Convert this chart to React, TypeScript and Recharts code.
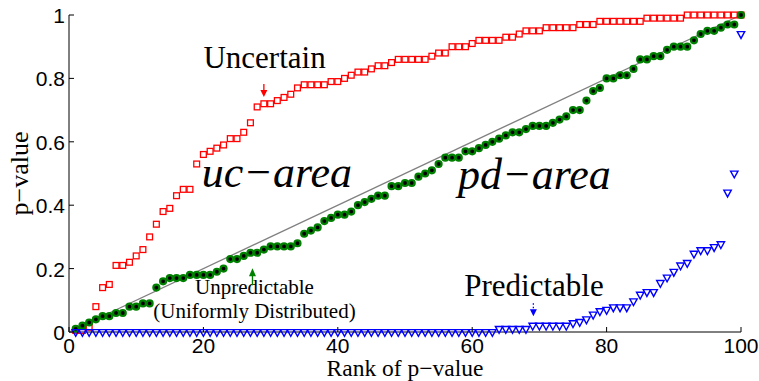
import { ScatterChart, Scatter, XAxis, YAxis, ReferenceDot, Label } from 'recharts';

const xTicks = [0, 20, 40, 60, 80, 100];
const yTicks = [0, 0.2, 0.4, 0.6, 0.8, 1];

// p-values sorted by rank (1..100)
const uncertain = [
  0.005, 0.005, 0.015, 0.08, 0.14, 0.15, 0.21, 0.21, 0.22, 0.24,
  0.26, 0.3, 0.34, 0.38, 0.39, 0.43, 0.45, 0.45, 0.53, 0.56,
  0.57, 0.58, 0.59, 0.61, 0.61, 0.63, 0.66, 0.71, 0.72, 0.72,
  0.73, 0.74, 0.75, 0.77, 0.78, 0.78, 0.78, 0.78, 0.79, 0.79,
  0.8, 0.81, 0.82, 0.82, 0.83, 0.84, 0.84, 0.85, 0.86, 0.86,
  0.86, 0.86, 0.86, 0.87, 0.88, 0.88, 0.9, 0.9, 0.9, 0.91,
  0.92, 0.92, 0.92, 0.92, 0.93, 0.93, 0.94, 0.95, 0.95, 0.95,
  0.96, 0.96, 0.96, 0.96, 0.96, 0.97, 0.97, 0.97, 0.98, 0.98,
  0.98, 0.98, 0.98, 0.98, 0.98, 0.99, 0.99, 0.99, 0.99, 0.99,
  0.99, 1, 1, 1, 1, 1, 1, 1, 1, 1,
];

const unpredictable = [
  0.01, 0.02, 0.03, 0.04, 0.05, 0.05, 0.06, 0.06, 0.08, 0.08,
  0.09, 0.09, 0.14, 0.16, 0.17, 0.17, 0.17, 0.18, 0.18, 0.18,
  0.18, 0.19, 0.2, 0.23, 0.23, 0.24, 0.25, 0.25, 0.26, 0.27,
  0.27, 0.27, 0.27, 0.28, 0.31, 0.32, 0.33, 0.35, 0.36, 0.37,
  0.37, 0.38, 0.4, 0.41, 0.42, 0.43, 0.43, 0.46, 0.46, 0.47,
  0.47, 0.49, 0.5, 0.51, 0.53, 0.55, 0.55, 0.55, 0.57, 0.57,
  0.58, 0.59, 0.6, 0.61, 0.62, 0.63, 0.63, 0.64, 0.65, 0.65,
  0.65, 0.66, 0.67, 0.68, 0.7, 0.7, 0.73, 0.76, 0.77, 0.8,
  0.8, 0.81, 0.81, 0.83, 0.86, 0.86, 0.87, 0.87, 0.89, 0.9,
  0.9, 0.9, 0.92, 0.94, 0.95, 0.95, 0.96, 0.97, 0.97, 1,
];

const predictable = [
  0, 0, 0, 0, 0, 0, 0, 0, 0, 0,
  0, 0, 0, 0, 0, 0, 0, 0, 0, 0,
  0, 0, 0, 0, 0, 0, 0, 0, 0, 0,
  0, 0, 0, 0, 0, 0, 0, 0, 0, 0,
  0, 0, 0, 0, 0, 0, 0, 0, 0, 0,
  0, 0, 0, 0, 0, 0, 0, 0, 0, 0,
  0, 0, 0, 0.01, 0.01, 0.01, 0.01, 0.01, 0.02, 0.02,
  0.02, 0.02, 0.02, 0.02, 0.028, 0.032, 0.04, 0.055, 0.066, 0.07,
  0.078, 0.078, 0.078, 0.097, 0.118, 0.126, 0.126, 0.155, 0.172, 0.19,
  0.21, 0.218, 0.247, 0.258, 0.258, 0.268, 0.277, 0.44, 0.5, 0.94,
];

const diagonal = [
  { x: 0, y: 0 },
  { x: 100, y: 1 },
];

const toPoints = (vals: number[]) => vals.map((y, i) => ({ x: i + 1, y }));

const serif = '"Liberation Serif", "Times New Roman", serif';
const sans = '"Liberation Sans", Arial, sans-serif';

const Square = (p: any) => (
  <rect x={p.cx - 2.9} y={p.cy - 2.9} width={5.8} height={5.8} fill="none" stroke="#ff0000" strokeWidth={1.3} />
);

const Dot = (p: any) => (
  <circle cx={p.cx} cy={p.cy} r={3} fill="#000" stroke="#008000" strokeWidth={2.2} />
);

const Tri = (p: any) => (
  <path
    d={`M${p.cx - 3.7},${p.cy - 2.4} L${p.cx + 3.7},${p.cy - 2.4} L${p.cx},${p.cy + 4.4} Z`}
    fill="none"
    stroke="#0000ff"
    strokeWidth={1.4}
  />
);

const NoShape = () => <g />;

const BottomTick = ({ x, y, payload }: any) => (
  <g>
    <line x1={x} y1={y} x2={x} y2={y - 5} stroke="#000" />
    <text x={x} y={y + 20.5} textAnchor="middle" fontFamily={sans} fontSize={21} fill="#000">
      {payload.value}
    </text>
  </g>
);

const TopTick = ({ x, y }: any) => <line x1={x} y1={y} x2={x} y2={y + 5} stroke="#000" />;

const LeftTick = ({ x, y, payload }: any) => (
  <g>
    <line x1={x} y1={y} x2={x + 5} y2={y} stroke="#000" />
    <text x={x - 4} y={y + 8} textAnchor="end" fontFamily={sans} fontSize={21} fill="#000">
      {payload.value}
    </text>
  </g>
);

const RightTick = ({ x, y }: any) => <line x1={x} y1={y} x2={x - 5} y2={y} stroke="#000" />;

const xLabel = ({ viewBox }: any) => (
  <text x={viewBox.x + viewBox.width / 2} y={viewBox.y + 43.5} textAnchor="middle" fontFamily={serif} fontSize={23.5} fill="#000">
    Rank of p−value
  </text>
);

const yLabel = ({ viewBox }: any) => {
  const cx = viewBox.x + 28;
  const cy = viewBox.y + viewBox.height / 2;
  return (
    <text x={cx} y={cy} transform={`rotate(-90 ${cx} ${cy})`} textAnchor="middle" fontFamily={serif} fontSize={26} fill="#000">
      p−value
    </text>
  );
};

const note = (text: string, size: number, anchor: 'start' | 'middle', italic = false) => (p: any) => (
  <text x={p.cx} y={p.cy} textAnchor={anchor} fontFamily={serif} fontSize={size} fontStyle={italic ? 'italic' : 'normal'} fill="#000">
    {text}
  </text>
);

const downArrow = (color: string, dashed = false) => (p: any) => (
  <g>
    <line x1={p.cx} y1={p.cy} x2={p.cx} y2={p.cy + 7} stroke={color} strokeWidth={1.3} strokeDasharray={dashed ? '1.5 2' : undefined} />
    <polygon points={`${p.cx - 3.5},${p.cy + 6} ${p.cx + 3.5},${p.cy + 6} ${p.cx},${p.cy + 13}`} fill={color} />
  </g>
);

const upArrow = (color: string) => (p: any) => (
  <g>
    <polygon points={`${p.cx - 3.5},${p.cy + 8} ${p.cx + 3.5},${p.cy + 8} ${p.cx},${p.cy}`} fill={color} />
    <line x1={p.cx} y1={p.cy + 7} x2={p.cx} y2={p.cy + 17} stroke={color} strokeWidth={1.3} />
  </g>
);

export default function App() {
  return (
    <div style={{ position: 'absolute', left: 0, top: 0, width: 759, height: 381, background: '#fff' }}>
      <ScatterChart width={759} height={381} margin={{ top: 15, right: 18, bottom: 0, left: 0 }}>
        <XAxis
          dataKey="x"
          type="number"
          domain={[0, 100]}
          ticks={xTicks}
          interval={0}
          height={49}
          tickSize={0}
          tickMargin={0}
          tickLine={false}
          tick={BottomTick}
          axisLine={{ stroke: '#000' }}
        >
          <Label content={xLabel} />
        </XAxis>
        <XAxis
          xAxisId="top"
          orientation="top"
          dataKey="x"
          type="number"
          domain={[0, 100]}
          ticks={xTicks}
          interval={0}
          height={0}
          tickSize={0}
          tickMargin={0}
          tickLine={false}
          tick={TopTick}
          axisLine={{ stroke: '#000' }}
        />
        <YAxis
          dataKey="y"
          type="number"
          domain={[0, 1]}
          ticks={yTicks}
          interval={0}
          width={69}
          tickSize={0}
          tickMargin={0}
          tickLine={false}
          tick={LeftTick}
          axisLine={{ stroke: '#000' }}
        >
          <Label content={yLabel} />
        </YAxis>
        <YAxis
          yAxisId="right"
          orientation="right"
          dataKey="y"
          type="number"
          domain={[0, 1]}
          ticks={yTicks}
          interval={0}
          width={0}
          tickSize={0}
          tickMargin={0}
          tickLine={false}
          tick={RightTick}
          axisLine={{ stroke: '#000' }}
        />
        <Scatter data={diagonal} line={{ stroke: '#808080', strokeWidth: 1.3 }} shape={NoShape} isAnimationActive={false} />
        <Scatter data={toPoints(uncertain)} shape={Square} isAnimationActive={false} />
        <Scatter data={toPoints(unpredictable)} shape={Dot} isAnimationActive={false} />
        <Scatter data={toPoints(predictable)} shape={Tri} isAnimationActive={false} />

        <ReferenceDot x={29.1} y={0.833} r={0} ifOverflow="visible" shape={note('Uncertain', 31, 'middle')} />
        <ReferenceDot x={29.0} y={0.782} r={0} ifOverflow="visible" shape={downArrow('#ff0000')} />
        <ReferenceDot x={19.75} y={0.457} r={0} ifOverflow="visible" shape={note('uc−area', 44, 'start', true)} />
        <ReferenceDot x={57.9} y={0.452} r={0} ifOverflow="visible" shape={note('pd−area', 44, 'start', true)} />
        <ReferenceDot x={69.2} y={0.113} r={0} ifOverflow="visible" shape={note('Predictable', 31, 'middle')} />
        <ReferenceDot x={69.1} y={0.0906} r={0} ifOverflow="visible" shape={downArrow('#0000ff', true)} />
        <ReferenceDot x={27.6} y={0.119} r={0} ifOverflow="visible" shape={note('Unpredictable', 21, 'middle')} />
        <ReferenceDot x={27.6} y={0.043} r={0} ifOverflow="visible" shape={note('(Uniformly Distributed)', 21, 'middle')} />
        <ReferenceDot x={27.3} y={0.201} r={0} ifOverflow="visible" shape={upArrow('#008000')} />
      </ScatterChart>
    </div>
  );
}
